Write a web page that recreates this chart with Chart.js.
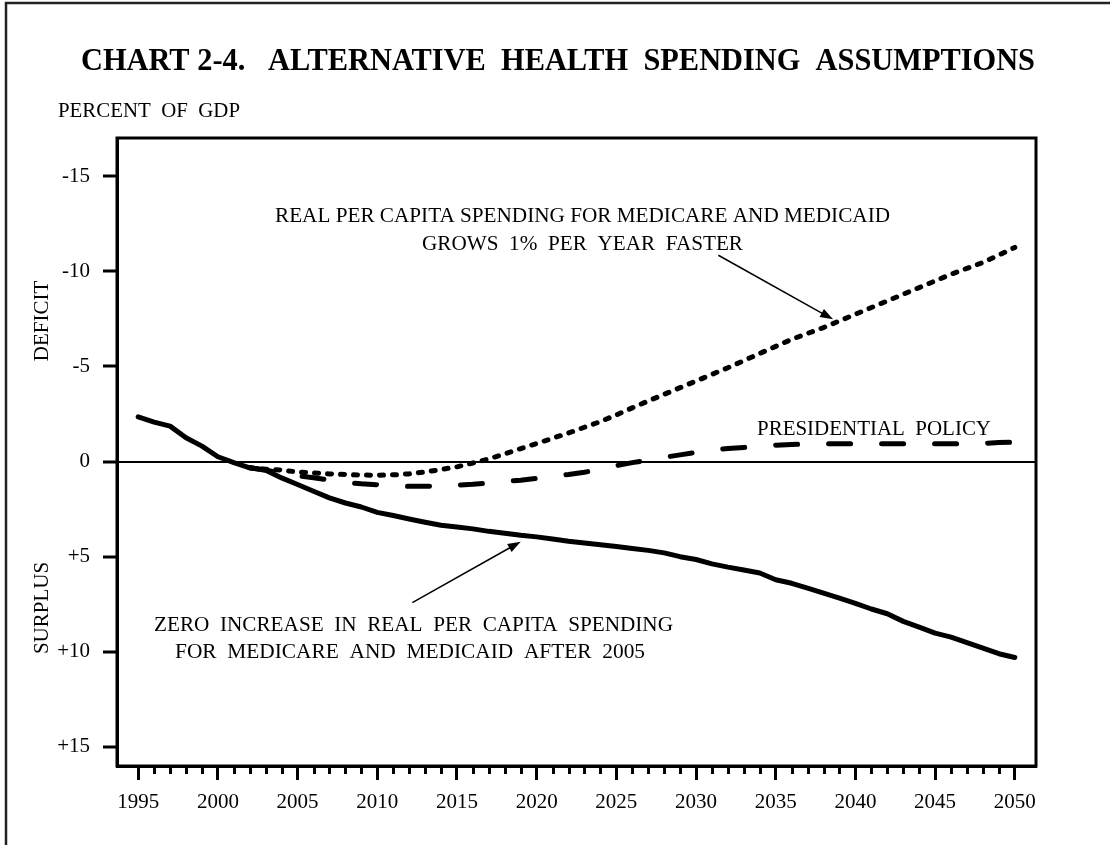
<!DOCTYPE html>
<html>
<head>
<meta charset="utf-8">
<title>Chart 2-4. Alternative Health Spending Assumptions</title>
<script src="https://cdn.jsdelivr.net/npm/chart.js@4.4.1/dist/chart.umd.min.js"></script>
<style>
  html, body { margin: 0; padding: 0; background: #fff; }
  canvas { display: block; }
</style>
</head>
<body>
<canvas id="myChart" width="1110" height="845"></canvas>
<script>
// years on the x axis
const years = [
  1995, 1996, 1997, 1998, 1999, 2000, 2001, 2002, 2003, 2004,
  2005, 2006, 2007, 2008, 2009, 2010, 2011, 2012, 2013, 2014,
  2015, 2016, 2017, 2018, 2019, 2020, 2021, 2022, 2023, 2024,
  2025, 2026, 2027, 2028, 2029, 2030, 2031, 2032, 2033, 2034,
  2035, 2036, 2037, 2038, 2039, 2040, 2041, 2042, 2043, 2044,
  2045, 2046, 2047, 2048, 2049, 2050
];
const labelYears = [1995, 2000, 2005, 2010, 2015, 2020, 2025, 2030, 2035, 2040, 2045, 2050];

// percent of GDP (negative = deficit, positive = surplus)
const zeroIncrease = [
  -2.35, -2.07, -1.86, -1.25, -0.81, -0.25, 0.06, 0.33, 0.46, 0.86,
  1.21, 1.56, 1.91, 2.18, 2.39, 2.67, 2.84, 3.02, 3.19, 3.35,
  3.44, 3.54, 3.67, 3.77, 3.88, 3.96, 4.07, 4.19, 4.28, 4.37,
  4.47, 4.57, 4.67, 4.80, 5.00, 5.15, 5.38, 5.55, 5.70, 5.86,
  6.21, 6.40, 6.65, 6.92, 7.18, 7.45, 7.75, 8.00, 8.40, 8.70,
  9.02, 9.23, 9.52, 9.81, 10.10, 10.30
];
const presidential = [
  null, null, null, null, null, null, null, 0.33, 0.45, 0.60,
  0.75, 0.85, 0.98, 1.10, 1.17, 1.22, 1.28, 1.30, 1.30, 1.28,
  1.25, 1.20, 1.12, 1.05, 0.98, 0.88, 0.78, 0.68, 0.56, 0.42,
  0.22, 0.06, -0.08, -0.22, -0.35, -0.48, -0.60, -0.68, -0.74, -0.80,
  -0.86, -0.90, -0.92, -0.93, -0.93, -0.93, -0.93, -0.93, -0.93, -0.93,
  -0.93, -0.93, -0.93, -0.95, -1.00, -1.02
];
const fasterGrowth = [
  null, null, null, null, null, null, null, 0.33, 0.40, 0.45,
  0.55, 0.60, 0.65, 0.68, 0.71, 0.72, 0.70, 0.65, 0.55, 0.42,
  0.28, 0.08, -0.14, -0.40, -0.68, -0.95, -1.22, -1.50, -1.80, -2.10,
  -2.45, -2.82, -3.18, -3.53, -3.88, -4.23, -4.58, -4.93, -5.30, -5.68,
  -6.05, -6.42, -6.73, -7.04, -7.39, -7.74, -8.09, -8.44, -8.79, -9.14,
  -9.49, -9.84, -10.15, -10.46, -10.85, -11.25
];

const yTicks = [-15, -10, -5, 0, 5, 10, 15];
const yTickLabels = ["-15", "-10", "-5", "0", "+5", "+10", "+15"];

const SERIF = "'Liberation Serif', 'Times New Roman', serif";

function toPoints(vals) {
  return years.map((yr, i) => ({ x: yr, y: vals[i] }));
}

// draw text squeezed/stretched to a given width
function fitText(ctx, text, x, y, width, font) {
  ctx.font = font;
  const w = ctx.measureText(text).width;
  ctx.save();
  ctx.translate(x, y);
  ctx.scale(width / w, 1);
  ctx.textAlign = "left";
  ctx.textBaseline = "alphabetic";
  ctx.fillText(text, 0, 0);
  ctx.restore();
}

function arrow(ctx, x1, y1, x2, y2) {
  const a = Math.atan2(y2 - y1, x2 - x1);
  const len = 13, half = 4.5;
  ctx.save();
  ctx.strokeStyle = "#000";
  ctx.fillStyle = "#000";
  ctx.lineWidth = 1.5;
  ctx.beginPath();
  ctx.moveTo(x1, y1);
  ctx.lineTo(x2 - Math.cos(a) * len * 0.8, y2 - Math.sin(a) * len * 0.8);
  ctx.stroke();
  ctx.beginPath();
  ctx.moveTo(x2, y2);
  ctx.lineTo(x2 - Math.cos(a) * len - Math.sin(a) * half, y2 - Math.sin(a) * len + Math.cos(a) * half);
  ctx.lineTo(x2 - Math.cos(a) * len + Math.sin(a) * half, y2 - Math.sin(a) * len - Math.cos(a) * half);
  ctx.closePath();
  ctx.fill();
  ctx.restore();
}

const decorations = {
  id: "decorations",
  beforeDraw(chart) {
    const ctx = chart.ctx;
    ctx.save();
    ctx.fillStyle = "#fff";
    ctx.fillRect(0, 0, chart.width, chart.height);
    // page frame
    ctx.strokeStyle = "#222";
    ctx.lineWidth = 2.5;
    ctx.beginPath();
    ctx.moveTo(6, chart.height);
    ctx.lineTo(6, 3);
    ctx.lineTo(chart.width, 3);
    ctx.stroke();
    ctx.restore();
  },
  afterDraw(chart) {
    const ctx = chart.ctx;
    const xs = chart.scales.x, ys = chart.scales.y;
    const area = chart.chartArea;
    ctx.save();
    ctx.fillStyle = "#000";

    // plot box
    ctx.strokeStyle = "#000";
    ctx.lineWidth = 3;
    ctx.strokeRect(area.left, area.top, area.right - area.left, area.bottom - area.top);

    // minor year ticks
    ctx.lineWidth = 3;
    years.filter(y => y % 5 !== 0).forEach(y => {
      const px = Math.round(xs.getPixelForValue(y)) + 0.5;
      ctx.beginPath();
      ctx.moveTo(px, area.bottom);
      ctx.lineTo(px, area.bottom + 8);
      ctx.stroke();
    });

    // titles
    fitText(ctx, "CHART 2-4.   ALTERNATIVE  HEALTH  SPENDING  ASSUMPTIONS", 81, 70, 954, "bold 32px " + SERIF);
    fitText(ctx, "PERCENT  OF  GDP", 58, 117, 182, "21px " + SERIF);

    // rotated side labels
    ctx.font = "21px " + SERIF;
    ctx.textAlign = "center";
    ctx.textBaseline = "middle";
    [["DEFICIT", 321], ["SURPLUS", 608]].forEach(([t, cy]) => {
      ctx.save();
      ctx.translate(42, cy);
      ctx.rotate(-Math.PI / 2);
      ctx.fillText(t, 0, 0);
      ctx.restore();
    });

    // annotations
    fitText(ctx, "REAL PER CAPITA SPENDING FOR MEDICARE AND MEDICAID", 275, 222, 615, "20px " + SERIF);
    fitText(ctx, "GROWS  1%  PER  YEAR  FASTER", 422, 250, 321, "20px " + SERIF);
    fitText(ctx, "PRESIDENTIAL  POLICY", 757, 435, 234, "20px " + SERIF);
    fitText(ctx, "ZERO  INCREASE  IN  REAL  PER  CAPITA  SPENDING", 154, 631, 519, "20px " + SERIF);
    fitText(ctx, "FOR  MEDICARE  AND  MEDICAID  AFTER  2005", 175, 658, 470, "20px " + SERIF);

    arrow(ctx, xs.getPixelForValue(2031.4), ys.getPixelForValue(-10.84),
               xs.getPixelForValue(2038.6), ys.getPixelForValue(-7.47));
    arrow(ctx, xs.getPixelForValue(2012.2), ys.getPixelForValue(7.42),
               xs.getPixelForValue(2019.0), ys.getPixelForValue(4.21));
    ctx.restore();
  }
};

const ctx = document.getElementById("myChart").getContext("2d");
new Chart(ctx, {
  type: "line",
  data: {
    datasets: [
      {
        label: "Zero increase after 2005",
        data: toPoints(zeroIncrease),
        borderColor: "#000",
        borderWidth: 5,
        borderCapStyle: "round",
        borderJoinStyle: "round",
        pointRadius: 0,
        tension: 0,
      },
      {
        label: "Presidential policy",
        data: toPoints(presidential),
        borderColor: "#000",
        borderWidth: 5,
        borderDash: [22, 31],
        borderCapStyle: "round",
        borderJoinStyle: "round",
        pointRadius: 0,
        tension: 0,
      },
      {
        label: "Grows 1% per year faster",
        data: toPoints(fasterGrowth),
        borderColor: "#000",
        borderWidth: 5,
        borderDash: [4, 9],
        borderCapStyle: "round",
        borderJoinStyle: "round",
        pointRadius: 0,
        tension: 0,
      },
    ],
  },
  options: {
    responsive: false,
    animation: false,
    layout: { padding: { left: 0, top: 138, right: 74, bottom: 0 } },
    plugins: {
      legend: { display: false },
      title: { display: false },
      tooltip: { enabled: false },
    },
    scales: {
      x: {
        type: "linear",
        min: 1993.67,
        max: 2051.33,
        afterBuildTicks: (s) => { s.ticks = labelYears.map(v => ({ value: v })); },
        afterFit: (s) => { s.height = 79; },
        border: { display: true, color: "#000", width: 3 },
        grid: { drawOnChartArea: false, tickLength: 14, tickWidth: 3, tickColor: "#000" },
        ticks: {
          color: "#000",
          font: { family: SERIF, size: 21 },
          padding: 10,
          maxRotation: 0,
          callback: (v) => String(v),
        },
      },
      y: {
        type: "linear",
        reverse: true,
        min: -17,
        max: 16,
        afterBuildTicks: (s) => { s.ticks = yTicks.map(v => ({ value: v })); },
        afterFit: (s) => { s.width = 117; },
        border: { display: true, color: "#000", width: 3 },
        grid: {
          color: (c) => (c.tick && c.tick.value === 0 ? "#000" : "rgba(0,0,0,0)"),
          lineWidth: 2,
          tickLength: 14,
          tickWidth: 3,
          tickColor: "#000",
        },
        ticks: {
          color: "#000",
          font: { family: SERIF, size: 21 },
          padding: 13,
          callback: (v) => yTickLabels[yTicks.indexOf(v)],
        },
      },
    },
  },
  plugins: [decorations],
});
</script>
</body>
</html>
